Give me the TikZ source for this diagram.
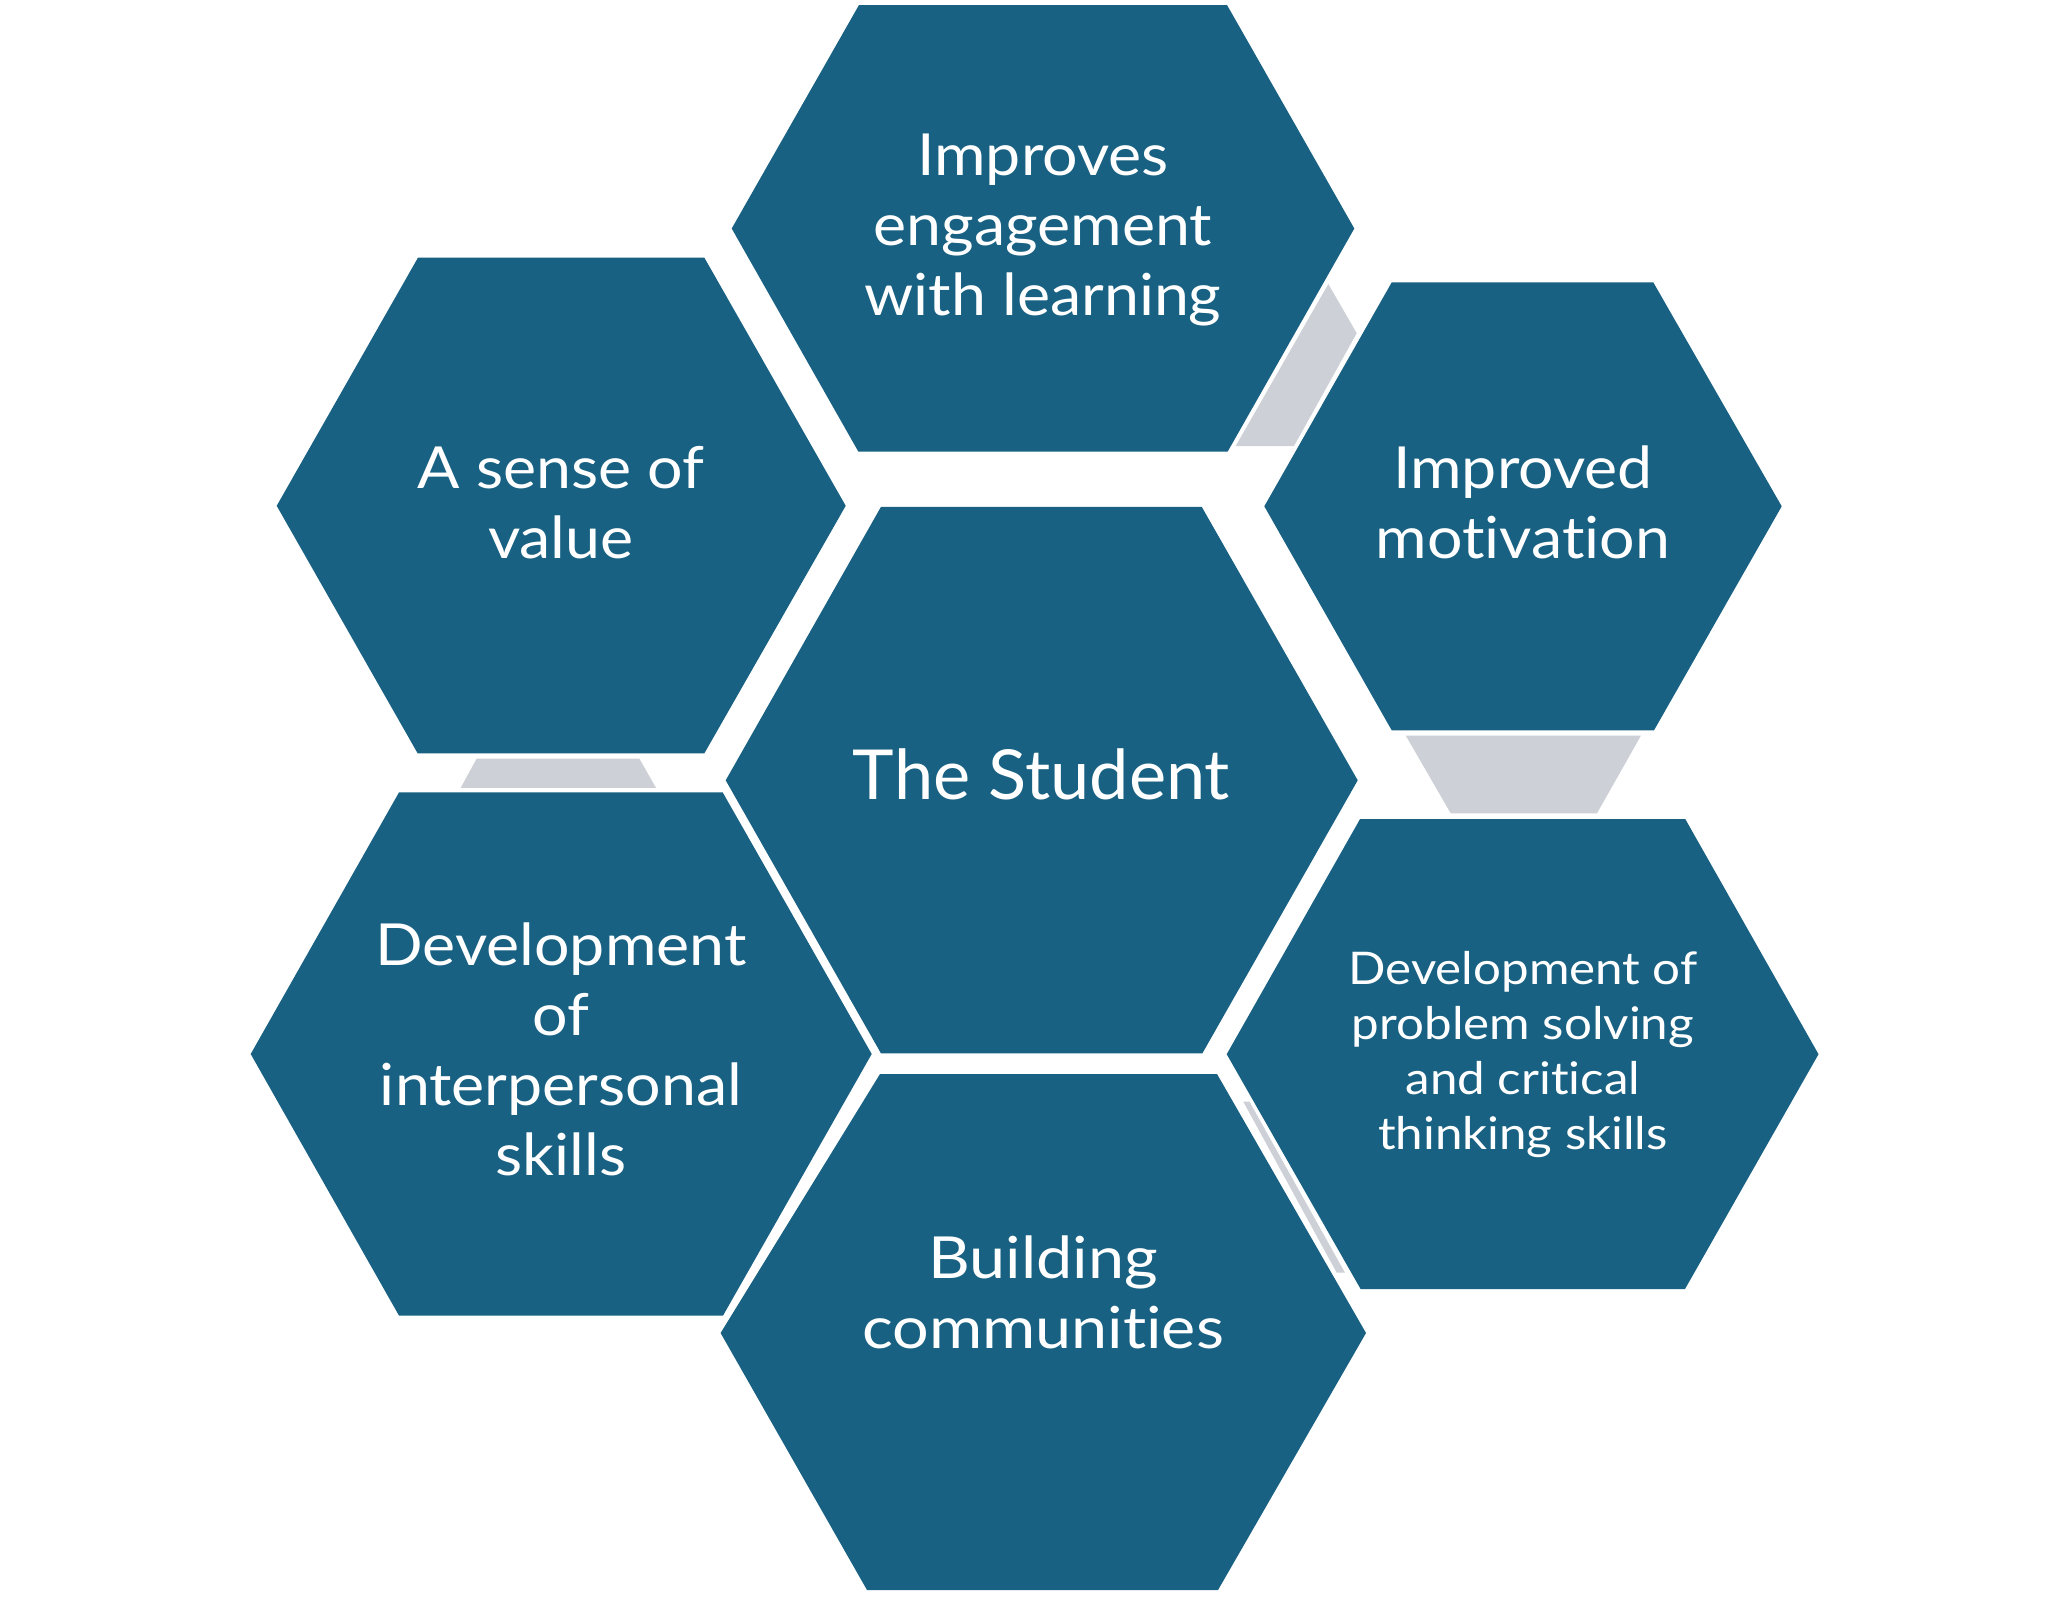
\documentclass[tikz,border=0pt]{standalone}
\usepackage{fontspec}
\setmainfont{Lato}[Ligatures=NoCommon]
\newfontfamily\latoA[FakeStretch=1.08,Ligatures=NoCommon]{Lato}
\newfontfamily\latoB[FakeStretch=1.115,Ligatures=NoCommon]{Lato}
\newfontfamily\latoC[FakeStretch=1.02,Ligatures=NoCommon]{Lato}
\newfontfamily\latoP[FakeStretch=1.095,Ligatures=NoCommon]{Lato}
\definecolor{hexblue}{RGB}{24,97,130}
\definecolor{conngray}{RGB}{205,209,215}
\newcommand{\hexlines}[1]{\begin{tabular}[t]{@{}c@{}}#1\end{tabular}}
\begin{document}
\begin{tikzpicture}[x=1pt,y=-1pt,
  hexfill/.style={fill=hexblue},
  connfill/.style={fill=conngray},
  lbl/.style={text=white, anchor=base, inner sep=0pt, font=\latoA\fontsize{58}{70}\selectfont},
  lblwide/.style={lbl, font=\latoB\fontsize{58}{70}\selectfont},
  lblbig/.style={lbl, font=\latoC\fontsize{69}{80}\selectfont},
  lblsmall/.style={lbl, font=\latoP\fontsize{45}{55}\selectfont}]
\useasboundingbox (0,0) rectangle (2068,1596);
\fill[white] (0,0) rectangle (2068,1596);
% grey connectors
\fill[connfill] (1328.3,284) -- (1356.7,333.2) -- (1294,446) -- (1235.7,446) -- cycle;
\fill[connfill] (1405.7,735.5) -- (1641,735.5) -- (1597,813.3) -- (1450.7,813.3) -- cycle;
\fill[connfill] (476.7,758.5) -- (639.3,758.5) -- (656,787.8) -- (460.7,787.8) -- cycle;
\fill[connfill] (1243.3,1101.7) -- (1249.5,1101.7) -- (1345,1272.7) -- (1336.7,1272.7) -- cycle;
% hexagons
\fill[hexfill] (859,5) -- (1227,5) -- (1354.3,228.5) -- (1227.7,451.5) -- (858.3,451.5) -- (731.7,228.5) -- cycle;
\fill[hexfill] (418,257.6) -- (704.3,257.6) -- (845.7,505.8) -- (704.3,753.4) -- (417.7,753.4) -- (276.7,505.8) -- cycle;
\fill[hexfill] (1391.7,282.4) -- (1653.3,282.4) -- (1781.7,506.3) -- (1654,730.3) -- (1391.7,730.3) -- (1264.3,506.3) -- cycle;
\fill[hexfill] (881,506.8) -- (1201.7,506.8) -- (1357.7,780.3) -- (1202.3,1053.4) -- (881,1053.4) -- (725.7,780.3) -- cycle;
\fill[hexfill] (399,792.4) -- (722.7,792.4) -- (871.7,1054) -- (723,1315.6) -- (399,1315.6) -- (250.7,1054) -- cycle;
\fill[hexfill] (1360,819.1) -- (1685.3,819.1) -- (1818.5,1054.2) -- (1685,1289) -- (1360.6,1289) -- (1226.7,1054.2) -- cycle;
\fill[hexfill] (880,1074) -- (1217,1074) -- (1366,1333) -- (1218,1590) -- (867,1590) -- (720.6,1333) -- cycle;
% labels
\node[lbl] (eng) at (1043,175.3) {\hexlines{Improves\\engagement\\with learning}};
\node[lbl] (val) at (561,488) {\hexlines{A sense of\\value}};
\node[lbl] (mot) at (1523,488) {\hexlines{Improved\\motivation}};
\node[lblbig] (stu) at (1041.5,799.8) {\hexlines{The Student}};
\node[lbl] (inter) at (561,965.2) {\hexlines{Development\\of\\interpersonal\\skills}};
\node[lblsmall] (prob) at (1523,984.6) {\hexlines{Development of\\problem solving\\and critical\\thinking skills}};
\node[lblwide] (comm) at (1043,1278) {\hexlines{Building\\communities}};
\end{tikzpicture}
\end{document}
